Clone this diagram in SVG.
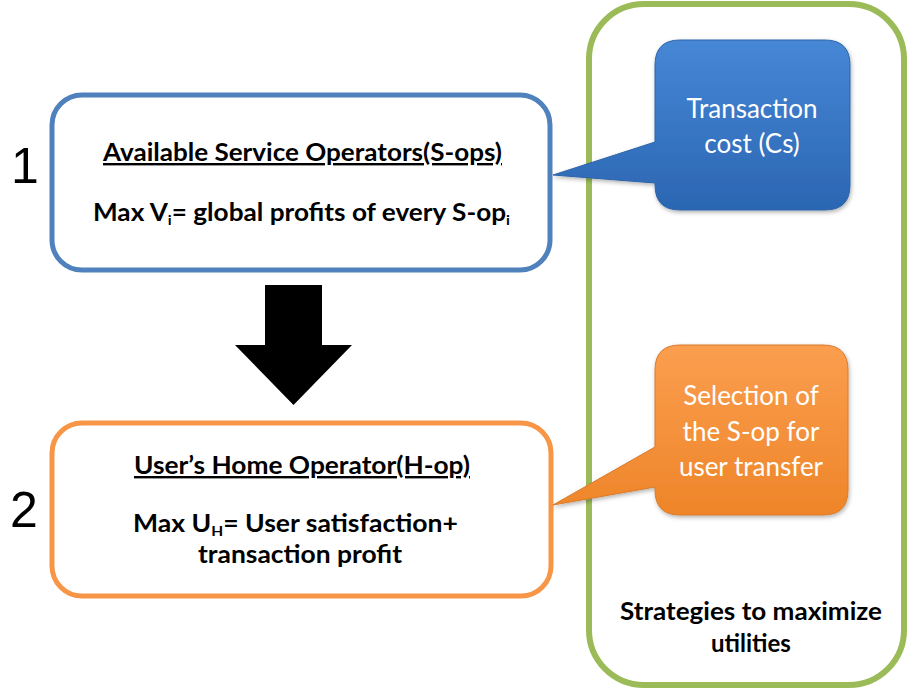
<svg xmlns="http://www.w3.org/2000/svg" width="907" height="691" viewBox="0 0 907 691">
<defs>
<linearGradient id="gBlue" x1="0" y1="0" x2="0" y2="1">
<stop offset="0" stop-color="#4687d6"/>
<stop offset="1" stop-color="#2b66b2"/>
</linearGradient>
<linearGradient id="gOrange" x1="0" y1="0" x2="0" y2="1">
<stop offset="0" stop-color="#fb9e4f"/>
<stop offset="1" stop-color="#ee8529"/>
</linearGradient>
<filter id="sh" x="-10%" y="-10%" width="130%" height="130%">
<feDropShadow dx="1" dy="2" stdDeviation="2" flood-color="#000" flood-opacity="0.3"/>
</filter>
</defs>
<style>
.box{fill:#fff;stroke-width:5}
.t{font-family:Lato,"Open Sans","Liberation Sans",sans-serif;font-weight:bold;font-size:24px;fill:#000;text-anchor:middle}
.u{text-decoration:underline}
.sub{font-size:14px}
.c{font-family:Lato,"Open Sans","Liberation Sans",sans-serif;font-size:26px;fill:#fff;text-anchor:middle}
.num{font-family:"Liberation Sans",Arial,sans-serif;font-size:50px;fill:#000;text-anchor:middle}
</style>
<rect width="907" height="691" fill="#fff"/>

<g id="strategies">
<rect x="589" y="4" width="315" height="681" rx="55" fill="none" stroke="#9bbb59" stroke-width="6"/>
<text class="t" x="751" y="620" textLength="262" lengthAdjust="spacingAndGlyphs">Strategies to maximize</text>
<text class="t" x="751" y="652">utilities</text>
</g>

<g id="sops">
<text class="num" x="25" y="183">1</text>
<rect class="box" x="52" y="95" width="498" height="175" rx="30" stroke="#4f81bd"/>
<text class="t u" x="302.5" y="161" textLength="399" lengthAdjust="spacingAndGlyphs">Available Service Operators(S-ops)</text>
<text class="t" x="301.5" y="221" textLength="417" lengthAdjust="spacingAndGlyphs">Max V<tspan class="sub" dy="4">i</tspan><tspan dy="-4">= global profits of every S-op</tspan><tspan class="sub" dy="4">i</tspan></text>
</g>

<g id="hop">
<text class="num" x="24" y="527">2</text>
<rect class="box" x="52" y="423" width="499" height="173" rx="30" stroke="#f79646"/>
<text class="t u" x="302" y="474" textLength="336" lengthAdjust="spacingAndGlyphs">User’s Home Operator(H-op)</text>
<text class="t" x="295.5" y="532" textLength="325" lengthAdjust="spacingAndGlyphs">Max U<tspan class="sub" dy="4">H</tspan><tspan dy="-4">= User satisfaction+</tspan></text>
<text class="t" x="300" y="563" textLength="204" lengthAdjust="spacingAndGlyphs">transaction profit</text>
</g>

<g id="cost">
<path d="M680,40 H825 Q850,40 850,65 V185 Q850,210 825,210 H680 Q655,210 655,185 V183 L553,175 L655,142 V65 Q655,40 680,40 Z" fill="url(#gBlue)" stroke="#2d64a8" stroke-width="1" filter="url(#sh)"/>
<text class="c" x="752" y="118">Transaction</text>
<text class="c" x="752" y="153">cost (Cs)</text>
</g>

<g id="selection">
<path d="M680,345 H823 Q848,345 848,370 V490 Q848,515 823,515 H680 Q655,515 655,490 V487 L553,505 L655,447 V370 Q655,345 680,345 Z" fill="url(#gOrange)" stroke="#d97a2c" stroke-width="1" filter="url(#sh)"/>
<text class="c" x="751" y="405">Selection of</text>
<text class="c" x="751" y="441">the S-op for</text>
<text class="c" x="751" y="476">user transfer</text>
</g>

<g id="connectors">
<polygon points="265,285 322,285 322,345 352,345 293.5,405 235,345 265,345" fill="#000"/>
</g>
</svg>
